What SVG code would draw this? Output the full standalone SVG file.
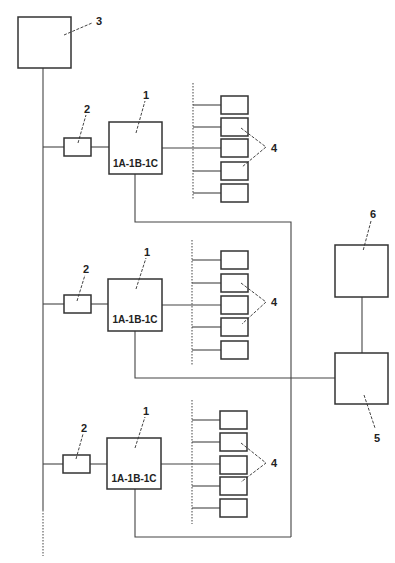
<svg xmlns="http://www.w3.org/2000/svg" width="395" height="563" viewBox="0 0 395 563">
<style>
.box{fill:none;stroke:#333;stroke-width:1.5}
.ln{fill:none;stroke:#444;stroke-width:1.1}
.dot{fill:none;stroke:#555;stroke-width:1.1;stroke-dasharray:1.5,1.5}
.ld{fill:none;stroke:#444;stroke-width:1;stroke-dasharray:3,1.5}
.lb{font-family:"Liberation Sans",Arial,sans-serif;font-weight:bold;font-size:11px;fill:#222;text-anchor:middle}
.bt{font-family:"Liberation Sans",Arial,sans-serif;font-weight:bold;font-size:10px;fill:#222;text-anchor:middle}
</style>
<rect width="395" height="563" fill="#fff"/>
<g id="connectors">
<line class="ln" x1="43" y1="68" x2="43" y2="510"/>
<line class="dot" x1="43" y1="510" x2="43" y2="556"/>
<!-- group 1 -->
<polyline class="ln" points="43,147 64,147"/>
<polyline class="ln" points="91,147 109,147"/>
<polyline class="ln" points="162,148 221,148"/>
<line class="dot" x1="193" y1="83" x2="193" y2="199"/>
<line class="ln" x1="193" y1="105" x2="221" y2="105"/>
<line class="ln" x1="193" y1="127" x2="221" y2="127"/>
<line class="ln" x1="193" y1="171" x2="221" y2="171"/>
<line class="ln" x1="193" y1="193" x2="221" y2="193"/>
<polyline class="ln" points="135,174 135,222 291,222 291,537"/>
<!-- group 2 -->
<polyline class="ln" points="43,304 64,304"/>
<polyline class="ln" points="91,304 108,304"/>
<polyline class="ln" points="162,305 221,305"/>
<line class="dot" x1="192" y1="240" x2="192" y2="366"/>
<line class="ln" x1="192" y1="260" x2="221" y2="260"/>
<line class="ln" x1="192" y1="283" x2="221" y2="283"/>
<line class="ln" x1="192" y1="327" x2="221" y2="327"/>
<line class="ln" x1="192" y1="350" x2="221" y2="350"/>
<polyline class="ln" points="135,331 135,378 335,378"/>
<!-- group 3 -->
<polyline class="ln" points="43,464 63,464"/>
<polyline class="ln" points="90,464 107,464"/>
<polyline class="ln" points="161,464 220,464"/>
<line class="dot" x1="192" y1="400" x2="192" y2="524"/>
<line class="ln" x1="192" y1="420" x2="220" y2="420"/>
<line class="ln" x1="192" y1="442" x2="220" y2="442"/>
<line class="ln" x1="192" y1="486" x2="220" y2="486"/>
<line class="ln" x1="192" y1="508" x2="220" y2="508"/>
<polyline class="ln" points="135,489 135,537 291,537"/>
<!-- right -->
<line class="ln" x1="362" y1="297" x2="362" y2="353"/>
<!-- leaders -->
<line class="ld" x1="64" y1="35" x2="92" y2="23"/>
<line class="ld" x1="136" y1="133" x2="145" y2="101"/>
<line class="ld" x1="78" y1="143" x2="86" y2="115"/>
<polyline class="ld" points="241,128 266,147 242,167"/>
<line class="ld" x1="136" y1="289" x2="146" y2="258"/>
<line class="ld" x1="77" y1="301" x2="85" y2="275"/>
<polyline class="ld" points="241,283 266,302 242,324"/>
<line class="ld" x1="135" y1="448" x2="145" y2="417"/>
<line class="ld" x1="76" y1="459" x2="83" y2="434"/>
<polyline class="ld" points="241,443 266,463 241,482"/>
<line class="ld" x1="371" y1="221" x2="363" y2="251"/>
<line class="ld" x1="364" y1="395" x2="375" y2="428"/>
</g>
<g id="n3"><rect class="box" x="18" y="17" width="53" height="51"/><text class="lb" x="99" y="25">3</text></g>
<g id="g1-2"><rect class="box" x="64" y="138" width="27" height="18"/><text class="lb" x="87" y="113">2</text></g>
<g id="g1-1"><rect class="box" x="109" y="122" width="53" height="52"/><text class="bt" x="135.5" y="167">1A-1B-1C</text><text class="lb" x="146" y="99">1</text></g>
<g id="g1-4">
<rect class="box" x="221" y="96" width="27" height="18"/>
<rect class="box" x="221" y="118" width="27" height="18"/>
<rect class="box" x="221" y="139" width="27" height="18"/>
<rect class="box" x="221" y="162" width="27" height="18"/>
<rect class="box" x="221" y="184" width="27" height="18"/>
<text class="lb" x="274" y="152">4</text>
</g>
<g id="g2-2"><rect class="box" x="64" y="295" width="27" height="18"/><text class="lb" x="86" y="273">2</text></g>
<g id="g2-1"><rect class="box" x="108" y="279" width="54" height="52"/><text class="bt" x="135" y="323">1A-1B-1C</text><text class="lb" x="147" y="256">1</text></g>
<g id="g2-4">
<rect class="box" x="221" y="251" width="27" height="18"/>
<rect class="box" x="221" y="274" width="27" height="18"/>
<rect class="box" x="221" y="296" width="27" height="18"/>
<rect class="box" x="221" y="318" width="27" height="18"/>
<rect class="box" x="221" y="341" width="27" height="18"/>
<text class="lb" x="274" y="306">4</text>
</g>
<g id="g3-2"><rect class="box" x="63" y="455" width="27" height="18"/><text class="lb" x="84" y="432">2</text></g>
<g id="g3-1"><rect class="box" x="107" y="438" width="54" height="51"/><text class="bt" x="134" y="482">1A-1B-1C</text><text class="lb" x="146" y="415">1</text></g>
<g id="g3-4">
<rect class="box" x="220" y="411" width="27" height="18"/>
<rect class="box" x="220" y="433" width="27" height="18"/>
<rect class="box" x="220" y="456" width="27" height="18"/>
<rect class="box" x="220" y="477" width="27" height="18"/>
<rect class="box" x="220" y="499" width="27" height="18"/>
<text class="lb" x="274" y="467">4</text>
</g>
<g id="n6"><rect class="box" x="335" y="245" width="53" height="52"/><text class="lb" x="373" y="218">6</text></g>
<g id="n5"><rect class="box" x="335" y="353" width="53" height="51"/><text class="lb" x="377" y="442">5</text></g>
</svg>
